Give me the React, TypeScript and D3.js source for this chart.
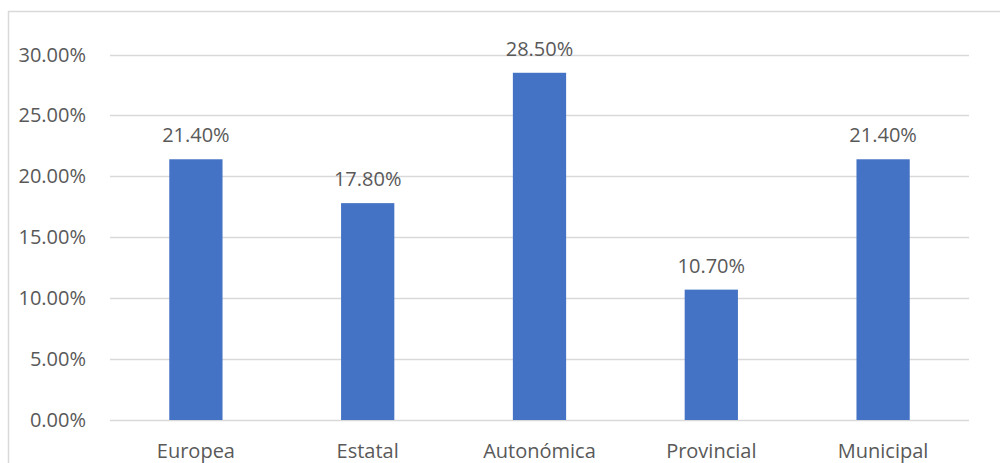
import React from "react";
import * as d3 from "d3";

const categories = ["Europea", "Estatal", "Autonómica", "Provincial", "Municipal"];
const values = [21.4, 17.8, 28.5, 10.7, 21.4];
const yTicks = [0, 5, 10, 15, 20, 25, 30];

export default function App() {
  const W = 1000, H = 463;
  const left = 110, right = 969, top = 54.5, bottom = 420;
  const x = d3.scaleBand<string>().domain(categories).range([left, right]).paddingInner(0.69).paddingOuter(0.345);
  const y = d3.scaleLinear().domain([0, 30]).range([bottom, top]);
  const font = "'Open Sans', 'Noto Sans', sans-serif";
  const color = "#595959";
  const fs = 20;
  return (
    <svg width={W} height={H} style={{ position: "absolute", left: 0, top: 0, background: "#fff" }}>
      <rect x={8.5} y={11.5} width={1100} height={600} fill="#fff" stroke="#d9d9d9" strokeWidth={1.5} />
      {yTicks.map((t) => (
        <g key={t}>
          <line x1={left} x2={right} y1={Math.round(y(t)) + 0.5} y2={Math.round(y(t)) + 0.5} stroke="#d9d9d9" strokeWidth={1.5} />
          <text x={86} y={y(t)} dy="0.35em" textAnchor="end" fontFamily={font} fontSize={fs} fill={color}>
            {d3.format(".2f")(t) + "%"}
          </text>
        </g>
      ))}
      {categories.map((c, i) => (
        <g key={c}>
          <rect x={x(c)} y={y(values[i])} width={x.bandwidth()} height={bottom - y(values[i])} fill="#4472C4" />
          <text x={(x(c) as number) + x.bandwidth() / 2} y={y(values[i]) - 17} textAnchor="middle" fontFamily={font} fontSize={fs} fill={color}>
            {d3.format(".2f")(values[i]) + "%"}
          </text>
          <text x={(x(c) as number) + x.bandwidth() / 2} y={458} textAnchor="middle" fontFamily={font} fontSize={fs} fill={color}>
            {c}
          </text>
        </g>
      ))}
    </svg>
  );
}
